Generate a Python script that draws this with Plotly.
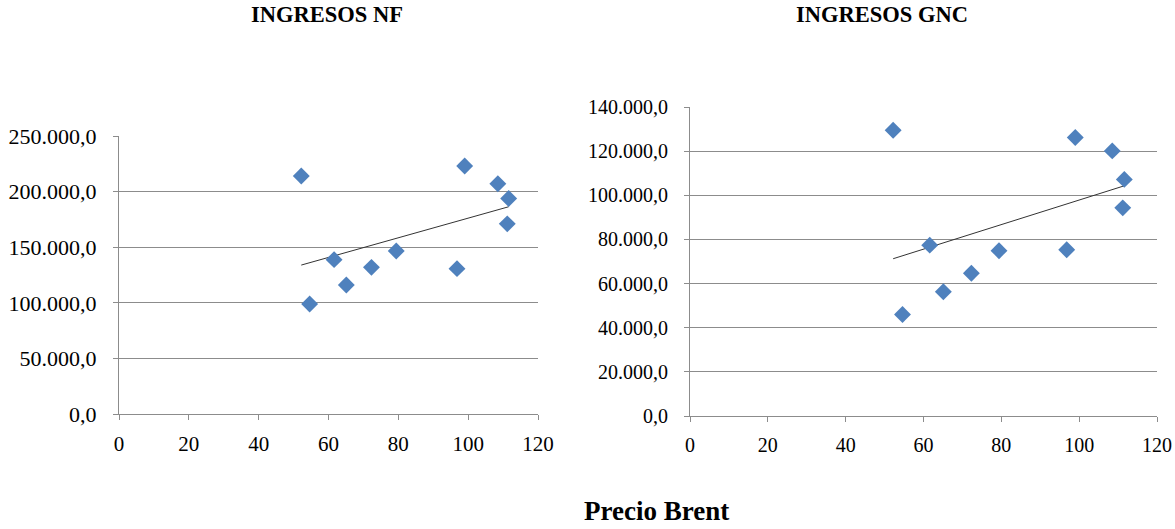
import numpy as np
import plotly.graph_objects as go

brent = [54.6, 65.1, 72.3, 96.8, 61.6, 79.4, 111.2, 111.6, 108.5, 99.0, 52.2]
ingresos_nf = [98.9, 116.0, 131.9, 130.7, 138.8, 146.6, 171.0, 193.8, 207.0, 223.0, 214.0]
ingresos_gnc = [46.0, 56.3, 64.7, 75.3, 77.4, 74.9, 94.3, 107.2, 120.1, 126.2, 129.5]
nf_vals = [v * 1000 for v in ingresos_nf]
gnc_vals = [v * 1000 for v in ingresos_gnc]

titles = ["INGRESOS NF", "INGRESOS GNC"]
x_title = "Precio Brent"

MARK = "#4F81BD"
GRID = "#8C8C8C"
FONT = "Liberation Serif"

fig = go.Figure()


def trend(xs, ys):
    m, b = np.polyfit(xs, ys, 1)
    x0, x1 = min(xs), max(xs)
    return [x0, x1], [m * x0 + b, m * x1 + b]


for i, ys in enumerate([nf_vals, gnc_vals]):
    xa = "x" if i == 0 else "x2"
    ya = "y" if i == 0 else "y2"
    tx, ty = trend(brent, ys)
    fig.add_trace(go.Scatter(x=tx, y=ty, mode="lines", xaxis=xa, yaxis=ya,
                             line=dict(color="#333333", width=1), hoverinfo="skip"))
    fig.add_trace(go.Scatter(x=brent, y=ys, mode="markers", xaxis=xa, yaxis=ya,
                             marker=dict(symbol="diamond", size=13, color=MARK,
                                         line=dict(width=0))))

W, H = 1175, 529


def px_x(p):
    return p / W


def px_y(p):
    return 1 - p / H


def ax(size, standoff):
    return dict(showline=True, linecolor=GRID, linewidth=1, ticks="outside",
                ticklen=5, tickcolor=GRID, zeroline=False, automargin=False,
                ticklabelstandoff=standoff,
                tickfont=dict(family=FONT, size=size, color="black"))


fig.update_layout(
    width=W, height=H, margin=dict(l=0, r=0, t=0, b=0),
    paper_bgcolor="white", plot_bgcolor="white", showlegend=False,
    separators=",.",
    font=dict(family=FONT),
    xaxis=dict(domain=[px_x(119), px_x(538)], range=[0, 120], dtick=20,
               showgrid=False, anchor="y", **ax(21, 6)),
    yaxis=dict(domain=[px_y(414), px_y(136)], range=[0, 250000], dtick=50000,
               tickformat=",.1f", showgrid=True, gridcolor=GRID, gridwidth=1,
               anchor="x", **ax(22, 12)),
    xaxis2=dict(domain=[px_x(690), px_x(1157)], range=[0, 120], dtick=20,
                showgrid=False, anchor="y2", **ax(20, 6)),
    yaxis2=dict(domain=[px_y(416), px_y(107)], range=[0, 140000], dtick=20000,
                tickformat=",.1f", showgrid=True, gridcolor=GRID, gridwidth=1,
                anchor="x2", **ax(20, 12)),
    annotations=[
        dict(text="<b>%s</b>" % titles[0], x=px_x(327), y=px_y(14), xref="paper", yref="paper",
             yanchor="middle", xanchor="center",
             showarrow=False, font=dict(family=FONT, size=22.5, color="black")),
        dict(text="<b>%s</b>" % titles[1], x=px_x(882), y=px_y(14), xref="paper", yref="paper",
             yanchor="middle", xanchor="center",
             showarrow=False, font=dict(family=FONT, size=22.5, color="black")),
        dict(text="<b>%s</b>" % x_title, x=px_x(656), y=px_y(511), xref="paper", yref="paper",
             yanchor="middle", xanchor="center",
             showarrow=False, font=dict(family=FONT, size=27, color="black")),
    ],
)

fig.write_html("out.html")
